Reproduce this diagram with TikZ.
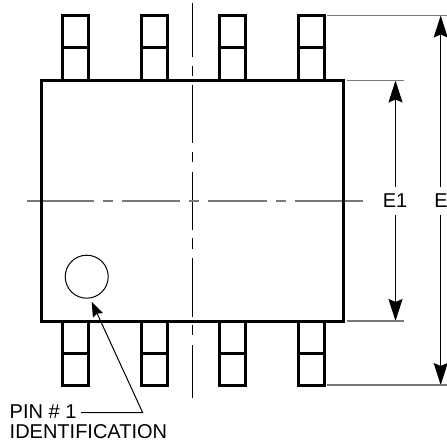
\documentclass[tikz,border=0pt]{standalone}
\usepackage{fontspec}
\setmainfont{Liberation Sans}
\usetikzlibrary{arrows.meta, positioning}
\definecolor{thingray}{RGB}{120, 120, 120}
\tikzset{
  outline/.style={draw=black, line width=3pt},
  pinbox/.style={outline, minimum width=26pt, minimum height=32.5pt, inner sep=0pt},
  centerline/.style={line width=1.1pt},
  extline/.style={draw=thingray, line width=1.5pt},
  dimarrow/.style={line width=1.1pt, -{Stealth[length=22pt, width=14pt, inset=3pt]}},
  leader/.style={line width=1pt, -{Stealth[length=15pt, width=11pt, inset=2pt]}},
  dimlabel/.style={font=\fontsize{20}{20}\selectfont, inner sep=0pt, minimum height=28pt, minimum width=20pt},
  pinlabel/.style={font=\fontsize{20}{20}\selectfont, inner sep=0pt, anchor=base west},
}
\begin{document}
\begin{tikzpicture}[x=1pt, y=-1pt]
  \useasboundingbox (0,0) rectangle (447,444);

  % Center lines
  \foreach \a/\b in {3/57, 66/76, 85/143, 152/162, 172/230, 238/249, 258/317, 325/335, 345/398} {
    \draw[centerline] (192.3,\a) -- (192.3,\b);
  }
  \foreach \a/\b in {27/94, 103/113, 122/180, 189/199, 208/267, 276/286, 295/363} {
    \draw[extline] (\a,201) -- (\b,201);
  }

  % Body
  \node[outline, minimum width=302pt, minimum height=241pt, inner sep=0pt] (body) at (192,200.5) {};

  % Pins
  \foreach \x/\n in {75/a, 154/b, 232/c, 311/d} {
    \node[pinbox] (top\n) at (\x,31.75) {};
    \node[pinbox] (mid\n) at (\x,64.25) {};
    \node[pinbox] (low\n) at (\x,337.25) {};
    \node[pinbox] (foot\n) at (\x,369.5) {};
  }

  % Pin 1 mark
  \node[draw, circle, line width=1pt, minimum size=43pt, inner sep=0pt] (pinone) at (86.7,276.7) {};
  \node[pinlabel] (pintext) at (9.5,418) {PIN \# 1};
  \node[pinlabel] (idtext) at (9.5,438) {IDENTIFICATION};
  \coordinate (leadstart) at (81,412.7);
  \coordinate (leadbend) at (142.7,412.7);
  \coordinate (leadtip) at (91.7,301.7);
  \draw[leader] (leadstart) -- (leadbend) -- (leadtip);

  % Dimensions
  \coordinate (etop) at (440.7,15.5);
  \coordinate (ebot) at (440.7,385);
  \coordinate (eonetop) at (395.5,80.5);
  \coordinate (eonebot) at (395.5,321);
  \node[dimlabel] (eone) at (395,201) {E1};
  \node[dimlabel] (ee) at (441,201) {E};
  \draw[dimarrow] (eone.north -| eonetop) -- (eonetop);
  \draw[dimarrow] (eone.south -| eonetop) -- (eonebot);
  \draw[dimarrow] (ee.north -| etop) -- (etop);
  \draw[dimarrow] (ee.south -| etop) -- (ebot);
  \draw[extline] (327,15.5) -- (447,15.5);
  \draw[extline] (327,385) -- (447,385);
  \draw[extline] (347,80.5) -- (404,80.5);
  \draw[extline] (347,321) -- (404,321);
\end{tikzpicture}
\end{document}
